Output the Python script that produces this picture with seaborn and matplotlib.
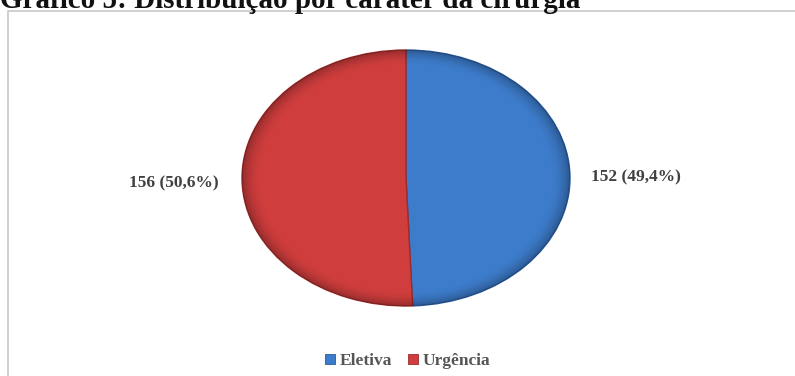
import matplotlib
matplotlib.use("Agg")
import numpy as np
import matplotlib.pyplot as plt
import seaborn as sns
from matplotlib.patches import Rectangle, Patch, Circle

sns.set_theme(style="white")
plt.rcParams['font.family'] = ['Liberation Serif', 'DejaVu Serif']

title = "Gráfico 5: Distribuição por caráter da cirurgia"
categories = ["Eletiva", "Urgência"]
values = [152, 156]
colors = ["#3d7ccb", "#cf3d3d"]
edge_colors = ["#2a5c9e", "#9e2a2a"]

fig = plt.figure(figsize=(7.95, 3.76), dpi=100)
W, H = 795, 376

# outer frame
fig.patches.append(Rectangle((8 / W, -0.02), 1.0, (376 - 10.5) / H + 0.02,
                             transform=fig.transFigure, fill=False,
                             edgecolor="#c8c8c8", linewidth=1.2))

# title (clipped at top as in the reference)
fig.text(0.0, 1 - 8 / H, title, fontsize=21, fontweight="bold",
         color="#111111", ha="left", va="baseline")

cx, cy, rx, ry = 406, 178, 164, 128
ax = fig.add_axes([(cx - rx) / W, (H - (cy + ry)) / H, 2 * rx / W, 2 * ry / H])
total = sum(values)
wedges, _ = ax.pie(values, colors=colors, startangle=90, counterclock=False,
                   radius=1.0, wedgeprops=dict(linewidth=1.0))
for w, ec in zip(wedges, edge_colors):
    w.set_edgecolor(ec)

# subtle rim shading for the bevelled look
g = np.linspace(-1, 1, 400)
X, Y = np.meshgrid(g, g)
R = np.sqrt(X ** 2 + Y ** 2)
shade = np.zeros((400, 400, 4))
shade[..., 3] = np.clip((R - 0.88) / 0.12, 0, 1) ** 2 * 0.28
im = ax.imshow(shade, extent=(-1, 1, -1, 1), origin="lower", zorder=3,
               interpolation="bilinear")
clip = Circle((0, 0), 1.0, transform=ax.transData)
im.set_clip_path(clip)

ax.set_aspect("auto")
ax.set_xlim(-1, 1)
ax.set_ylim(-1, 1)
ax.axis("off")

label_pos = [(636, 177), (174, 183)]
for v, (lx, ly) in zip(values, label_pos):
    pct = f"{100 * v / total:.1f}".replace(".", ",")
    fig.text(lx / W, 1 - ly / H, f"{v} ({pct}%)", fontsize=12.5,
             fontweight="bold", color="#404040", ha="center", va="center")

handles = [Patch(facecolor=c, edgecolor=e, linewidth=0.6) for c, e in zip(colors, edge_colors)]
leg = fig.legend(handles, categories, loc="center", bbox_to_anchor=(408 / W, 1 - 361 / H),
                 ncol=2, frameon=False, handlelength=0.55, handleheight=0.55,
                 handletextpad=0.3, columnspacing=0.9,
                 prop=dict(family="Liberation Serif", weight="bold", size=12.5))
for t in leg.get_texts():
    t.set_color("#555555")

fig.savefig("out.png", dpi=100)
